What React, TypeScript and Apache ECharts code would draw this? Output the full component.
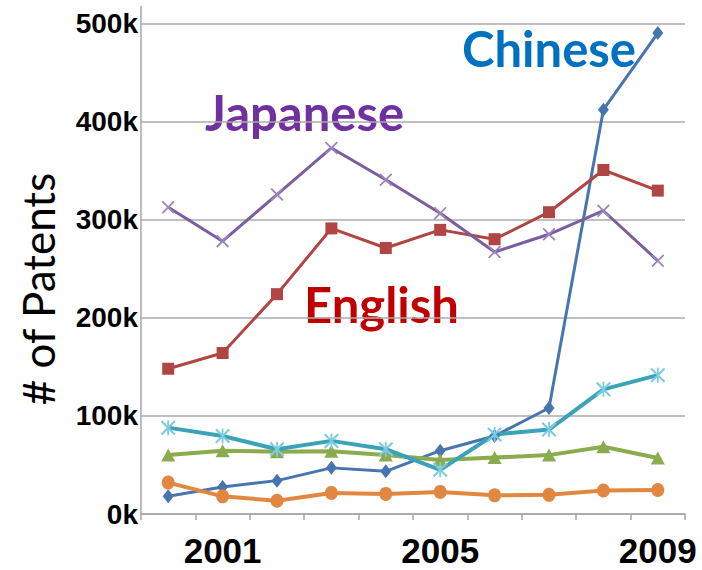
import React, { useEffect, useRef } from "react";
import * as echarts from "echarts";

const years = ["2000", "2001", "2002", "2003", "2004", "2005", "2006", "2007", "2008", "2009"];
const yTicks = [0, 100, 200, 300, 400, 500];
const chinese = [18, 27.5, 34, 47, 43.5, 64.5, 79.5, 108, 412, 490];
const english = [148, 164, 224, 291, 271, 289.5, 280, 307.5, 350.5, 329.5];
const japanese = [312.5, 278, 325.5, 373, 340.5, 306.5, 267, 285, 309, 258];
const aqua = [88, 79.5, 66, 74.5, 66, 45, 81, 86, 127, 141.5];
const green = [60, 64.5, 63.5, 64, 60, 55, 57.5, 60, 68.5, 57];
const orange = [32, 18, 13.5, 21.5, 20.5, 22.5, 19, 19.5, 24, 24.5];
const shownYears = ["2001", "2005", "2009"];
const annotations = [
  { text: "Chinese", color: "#0070C0" },
  { text: "Japanese", color: "#7030A0" },
  { text: "English", color: "#C00000" },
];

const X_PATH = "path://M0,1L1,0L10,9L9,10Z M9,0L10,1L1,10L0,9Z";
const STAR_PATH = "path://M0,1L1,0L10,9L9,10Z M9,0L10,1L1,10L0,9Z M4.4,0L5.6,0L5.6,10L4.4,10Z";

export default function App() {
  const ref = useRef<HTMLDivElement>(null);
  useEffect(() => {
    if (!ref.current) return;
    const chart = echarts.init(ref.current, null, { renderer: "svg" });
    const line = (name: string, data: number[], color: string, width: number, symbol: string, size: any, symColor?: string) => ({
      name,
      type: "line",
      data,
      symbol,
      symbolSize: size,
      showSymbol: true,
      lineStyle: { color, width },
      itemStyle: { color: symColor || color, borderWidth: 0 },
    });
    const annPos = [
      { x: 462, y: 48 },
      { x: 205, y: 112 },
      { x: 304, y: 304 },
    ];
    chart.setOption({
      animation: false,
      backgroundColor: "#ffffff",
      grid: { left: 141, right: 17, top: 6.6, bottom: 56 },
      xAxis: {
        type: "category",
        data: years,
        boundaryGap: true,
        axisLine: { lineStyle: { color: "#a6a6a6", width: 1.5 } },
        axisTick: { show: true, interval: 0, length: 6, lineStyle: { color: "#a6a6a6", width: 1.5 } },
        axisLabel: {
          interval: (i: number, v: string) => shownYears.includes(v),
          fontFamily: "Liberation Sans",
          fontWeight: "bold",
          fontSize: 35,
          color: "#000",
          margin: 19,
        },
        splitLine: { show: false },
      },
      yAxis: {
        type: "value",
        min: yTicks[0],
        max: 517,
        interval: 100,
        axisLine: { show: true, lineStyle: { color: "#a6a6a6", width: 1.5 } },
        axisTick: { show: false },
        axisLabel: {
          formatter: (v: number) => (yTicks.includes(v) ? `${v}k` : ""),
          showMaxLabel: false,
          fontFamily: "Liberation Sans",
          fontWeight: "bold",
          fontSize: 28,
          color: "#000",
          margin: 3,
        },
        splitLine: { show: true, showMaxLine: false, lineStyle: { color: "#ababab", width: 1.5 } },
      },
      series: [
        line("Chinese", chinese, "#4775b0", 3, "diamond", [11, 14]),
        line("English", english, "#b04543", 3, "rect", 12),
        line("Japanese", japanese, "#7a5e9e", 3, X_PATH, 13, "#9d86bd"),
        line("Green", green, "#8aab4e", 4, "triangle", [14, 13]),
        line("Orange", orange, "#e28740", 4, "circle", [13, 14]),
        line("Aqua", aqua, "#3aa3b9", 4, STAR_PATH, 15, "#7dcbe0"),
      ],
      graphic: [
        ...annotations.map((a, i) => ({
          type: "text",
          x: annPos[i].x,
          y: annPos[i].y,
          style: {
            text: a.text,
            fill: a.color,
            font: 'bold 49px Lato',
            textAlign: "left",
            textVerticalAlign: "middle",
          },
        })),
        {
          type: "text",
          x: 37.5,
          y: 289,
          rotation: Math.PI / 2,
          style: {
            text: "# of Patents",
            fill: "#000",
            font: "44px Lato",
            textAlign: "center",
            textVerticalAlign: "middle",
          },
        },
      ],
    });
    return () => chart.dispose();
  }, []);
  return <div ref={ref} style={{ position: "fixed", left: 0, top: 0, width: 702, height: 570 }} />;
}
